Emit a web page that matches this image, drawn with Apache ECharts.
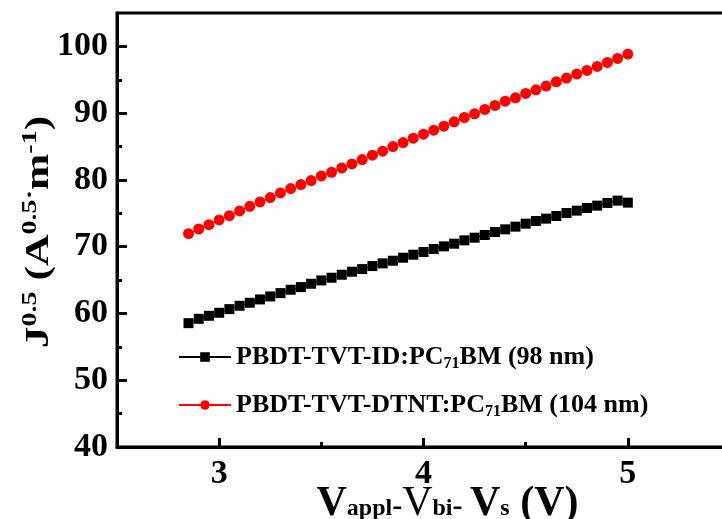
<!DOCTYPE html>
<html>
<head>
<meta charset="utf-8">
<script src="https://cdn.jsdelivr.net/npm/echarts@6/dist/echarts.min.js"></script>
<style>
  html, body { margin: 0; padding: 0; background: #fff; }
  #chart { width: 722px; height: 519px; }
</style>
</head>
<body>
<div id="chart"></div>
<script>
// V_appl - V_bi - V_s (V)
const voltage = [2.85, 2.90, 2.95, 3.00, 3.05, 3.10, 3.15, 3.20, 3.25, 3.30, 3.35, 3.40, 3.45, 3.50, 3.55,
  3.60, 3.65, 3.70, 3.75, 3.80, 3.85, 3.90, 3.95, 4.00, 4.05, 4.10, 4.15, 4.20, 4.25, 4.30, 4.35, 4.40,
  4.45, 4.50, 4.55, 4.60, 4.65, 4.70, 4.75, 4.80, 4.85, 4.90, 4.95, 5.00];

// J^0.5, PBDT-TVT-ID
const jId = [58.55, 59.2, 59.65, 60.1, 60.65, 61.15, 61.6, 62.1, 62.55, 63.05, 63.55, 63.95, 64.45, 64.95,
  65.35, 65.8, 66.25, 66.65, 67.1, 67.5, 67.9, 68.35, 68.8, 69.2, 69.65, 70.05, 70.45, 70.95, 71.35, 71.75,
  72.2, 72.6, 73.0, 73.45, 73.85, 74.2, 74.6, 75.05, 75.4, 75.8, 76.15, 76.55, 76.9, 76.6];

// J^0.5, PBDT-TVT-DTNT
const jDtnt = [71.95, 72.65, 73.3, 74.0, 74.65, 75.35, 76.05, 76.7, 77.35, 78.05, 78.7, 79.3, 79.9, 80.6,
  81.15, 81.8, 82.4, 83.05, 83.7, 84.3, 85.0, 85.6, 86.25, 86.85, 87.45, 88.05, 88.7, 89.35, 89.9, 90.55,
  91.15, 91.8, 92.3, 92.95, 93.5, 94.05, 94.7, 95.25, 95.85, 96.4, 97.0, 97.6, 98.2, 98.85];

const seriesNames = ['PBDT-TVT-ID:PC71BM (98 nm)', 'PBDT-TVT-DTNT:PC71BM (104 nm)'];

const xMajorTicks = [3, 4, 5];
const xMinorTicks = [3.5, 4.5];
const yMajorTicks = [40, 50, 60, 70, 80, 90, 100];
const yMinorTicks = [45, 55, 65, 75, 85, 95];

const font = 'Liberation Serif';
const chart = echarts.init(document.getElementById('chart'));

function pairs(ys) {
  return voltage.map((v, i) => [v, ys[i]]);
}

chart.setOption({
  animation: false,
  backgroundColor: '#fff',
  grid: {
    left: 117, top: 13, width: 613, height: 434,
    outerBoundsMode: 'none',
    show: true, borderColor: '#000', borderWidth: 3
  },
  // y axis title, stretched along its reading direction like the original
  graphic: [{
    type: 'text',
    x: 39,
    y: 232,
    rotation: Math.PI / 2,
    scaleX: 1.28,
    style: {
      text: '{m|J}{sup|0.5}{m| (A}{sup|0.5·}{m|m}{sup|-1}{m|)}',
      align: 'center',
      verticalAlign: 'middle',
      rich: {
        m: { fontFamily: font, fontWeight: 'bold', fontSize: 34, lineHeight: 40, fill: '#000' },
        sup: { fontFamily: font, fontWeight: 'bold', fontSize: 22, lineHeight: 22, verticalAlign: 'top', fill: '#000' }
      }
    }
  }],
  legend: {
    orient: 'vertical',
    left: 173,
    top: 337,
    itemWidth: 52,
    itemHeight: 12,
    itemGap: 18,
    data: seriesNames,
    formatter: name => name.replace('PC71', 'PC{sub|71}'),
    textStyle: {
      fontFamily: font, fontWeight: 'bold', fontSize: 26, color: '#000', lineHeight: 30,
      rich: {
        sub: { fontFamily: font, fontWeight: 'bold', fontSize: 16, color: '#000', lineHeight: 10, verticalAlign: 'bottom' }
      }
    }
  },
  xAxis: [
    {
      type: 'value', position: 'bottom', min: 2.5, max: 5.5,
      splitLine: { show: false },
      axisLine: { lineStyle: { color: '#000', width: 3 } },
      axisTick: { inside: true, length: 9, customValues: xMajorTicks, lineStyle: { color: '#000', width: 3 } },
      axisLabel: {
        customValues: xMajorTicks, margin: 10,
        fontFamily: font, fontWeight: 'bold', fontSize: 34, color: '#000'
      },
      name: '{v|V}{s|appl}{d|-}{vn|V}{s|bi}{d|- }{v|V}{s|s}{v| (V)}',
      nameLocation: 'middle',
      nameGap: 35,
      nameMoveOverlap: false,
      nameTextStyle: {
        padding: [0, 0, 0, 48],
        rich: {
          v: { fontFamily: font, fontWeight: 'bold', fontSize: 42, lineHeight: 44, color: '#000' },
          vn: { fontFamily: font, fontWeight: 'normal', fontSize: 42, lineHeight: 44, color: '#000' },
          s: { fontFamily: font, fontWeight: 'bold', fontSize: 24, lineHeight: 34, height: 34, verticalAlign: 'bottom', color: '#000' },
          d: { fontFamily: font, fontWeight: 'bold', fontSize: 30, lineHeight: 38, height: 38, verticalAlign: 'bottom', color: '#000' }
        }
      }
    },
    {
      type: 'value', position: 'bottom', min: 2.5, max: 5.5,
      splitLine: { show: false },
      axisLine: { show: false },
      axisLabel: { show: false },
      axisTick: { inside: true, length: 5, customValues: xMinorTicks, lineStyle: { color: '#000', width: 3 } }
    }
  ],
  yAxis: [
    {
      type: 'value', position: 'left', min: 40, max: 105,
      splitLine: { show: false },
      axisLine: { show: true, lineStyle: { color: '#000', width: 3 } },
      axisTick: { show: true, inside: true, length: 10, customValues: yMajorTicks, lineStyle: { color: '#000', width: 3 } },
      axisLabel: {
        customValues: yMajorTicks, margin: 9,
        fontFamily: font, fontWeight: 'bold', fontSize: 34, color: '#000'
      }
    },
    {
      type: 'value', position: 'left', min: 40, max: 105,
      splitLine: { show: false },
      axisLine: { show: false },
      axisLabel: { show: false },
      axisTick: { show: true, inside: true, length: 5, customValues: yMinorTicks, lineStyle: { color: '#000', width: 3 } }
    }
  ],
  series: [
    {
      name: seriesNames[0],
      type: 'line',
      data: pairs(jId),
      symbol: 'rect',
      symbolSize: 10,
      itemStyle: { color: '#000' },
      lineStyle: { color: '#000', width: 1 }
    },
    {
      name: seriesNames[1],
      type: 'line',
      data: pairs(jDtnt),
      symbol: 'circle',
      symbolSize: 11,
      itemStyle: { color: '#ff0000' },
      lineStyle: { color: '#ff0000', width: 1 }
    }
  ]
});
</script>
</body>
</html>
